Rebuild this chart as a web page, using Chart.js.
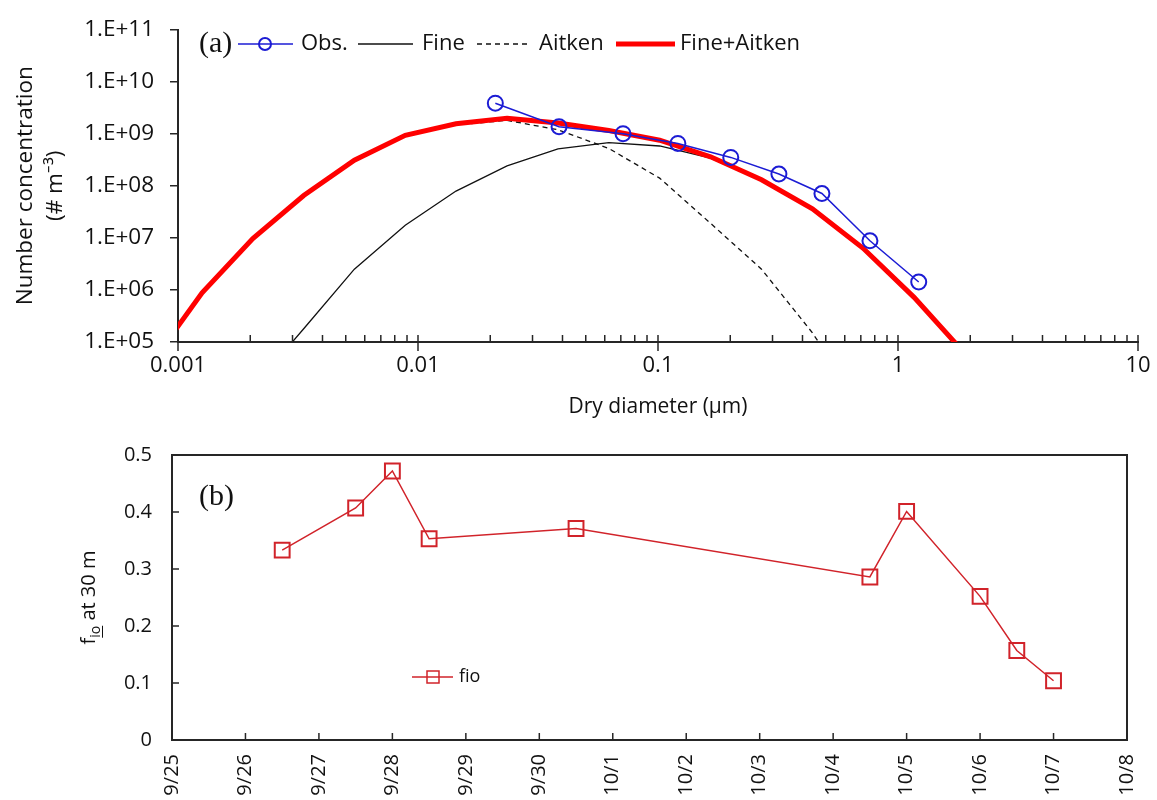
<!DOCTYPE html>
<html>
<head>
<meta charset="utf-8">
<script src="https://cdn.jsdelivr.net/npm/chart.js@4.4.1/dist/chart.umd.min.js"></script>
<style>
  body { margin: 0; background: #fff; }
  #wrap { position: relative; width: 1157px; height: 800px; background: #fff; }
  #top { position: absolute; left: 0; top: 0; }
  #bottom { position: absolute; left: 0; top: 430px; }
</style>
</head>
<body>
<div id="wrap">
  <canvas id="top" width="1157" height="430" style="width:1157px;height:430px"></canvas>
  <canvas id="bottom" width="1157" height="370" style="width:1157px;height:370px"></canvas>
</div>
<script>
// ---- panel (a): number size distribution ----
const obsDiam = [0.021, 0.0387, 0.0715, 0.121, 0.201, 0.319, 0.482, 0.764, 1.22];
const obsConc = [3.85e9, 1.36e9, 1.0e9, 6.5e8, 3.5e8, 1.68e8, 7.1e7, 8.8e6, 1.42e6];

// model size bins (um)
const modeDiam = [0.00077, 0.00126, 0.00205, 0.00334, 0.00543, 0.00885, 0.0144, 0.0235,
                  0.0383, 0.0624, 0.1016, 0.1656, 0.27, 0.44, 0.716, 1.167, 1.90];
const fineConc = [20, 600, 1.3e4, 1.8e5, 2.5e6, 1.74e7, 7.9e7, 2.4e8,
                  5.1e8, 6.7e8, 5.8e8, 3.4e8, 1.27e8, 3.6e7, 6.3e6, 7.2e5, 6e4];
const aitkenConc = [3.8e4, 8.8e5, 9.7e6, 6.5e7, 3.08e8, 9.1e8, 1.47e9, 1.8e9,
                    1.19e9, 5.2e8, 1.4e8, 1.9e7, 2.5e6, 1.5e5, 5e3, 80, 1];
const totalConc = [3.8e4, 8.8e5, 9.7e6, 6.5e7, 3.1e8, 9.3e8, 1.55e9, 1.98e9,
                   1.6e9, 1.15e9, 7.5e8, 3.6e8, 1.3e8, 3.6e7, 6.3e6, 7.2e5, 6e4];

const xDecades = [0.001, 0.01, 0.1, 1, 10];
const yDecades = [1e5, 1e6, 1e7, 1e8, 1e9, 1e10, 1e11];

// ---- panel (b): fio at 30 m ----
const dayLabels = ['9/25', '9/26', '9/27', '9/28', '9/29', '9/30', '10/1', '10/2',
                   '10/3', '10/4', '10/5', '10/6', '10/7', '10/8'];
const fioDays = [1.5, 2.5, 3, 3.5, 5.5, 9.5, 10, 11, 11.5, 12]; // days after 9/25
const fioValues = [0.333, 0.407, 0.472, 0.353, 0.371, 0.286, 0.401, 0.252, 0.157, 0.104];

Chart.defaults.font.family = "'Open Sans', sans-serif";
Chart.defaults.color = '#111';

const axisColor = '#262626';
const blue = '#1c1cd4';
const red = '#ff0000';
const fioRed = '#d1232a';
const serif = "'Liberation Serif', 'Times New Roman', serif";

function pts(xs, ys) {
  return xs.map((x, i) => ({ x: x, y: ys[i] }));
}

// decade ticks plus 2..9 minor ticks
const xTicksA = [];
xDecades.forEach((d, i) => {
  xTicksA.push({ value: d, major: true });
  if (i < xDecades.length - 1) {
    for (let m = 2; m <= 9; m++) xTicksA.push({ value: +(d * m).toPrecision(3), major: false });
  }
});

function formatE(v) {
  const e = Math.round(Math.log10(v));
  return '1.E+' + String(e).padStart(2, '0');
}

const panelA = {
  id: 'panelA',
  afterDraw(chart) {
    const ctx = chart.ctx;
    const xs = chart.scales.x;
    const yAxis = chart.chartArea.bottom;
    ctx.save();
    ctx.strokeStyle = axisColor;
    ctx.lineWidth = 1.5;
    xs.ticks.forEach(t => {
      const px = xs.getPixelForValue(t.value);
      ctx.beginPath();
      ctx.moveTo(px, yAxis - 7);
      ctx.lineTo(px, t.major ? yAxis + 9 : yAxis);
      ctx.stroke();
    });

    // panel label and legend
    const ly = 44;
    ctx.fillStyle = '#111';
    ctx.textBaseline = 'middle';
    ctx.font = '30px ' + serif;
    ctx.fillText('(a)', 199, ly);

    ctx.font = "22px 'Open Sans', sans-serif";
    // Obs.
    ctx.strokeStyle = blue; ctx.lineWidth = 1.5;
    ctx.beginPath(); ctx.moveTo(238, ly); ctx.lineTo(293, ly); ctx.stroke();
    ctx.lineWidth = 2;
    ctx.beginPath(); ctx.arc(265, ly, 6, 0, Math.PI * 2); ctx.stroke();
    ctx.fillText('Obs.', 301, ly);
    // Fine
    ctx.strokeStyle = '#111'; ctx.lineWidth = 1.3;
    ctx.beginPath(); ctx.moveTo(358, ly); ctx.lineTo(413, ly); ctx.stroke();
    ctx.fillText('Fine', 422, ly);
    // Aitken
    ctx.setLineDash([5, 4]);
    ctx.beginPath(); ctx.moveTo(477, ly); ctx.lineTo(529, ly); ctx.stroke();
    ctx.setLineDash([]);
    ctx.fillText('Aitken', 539, ly);
    // Fine+Aitken
    ctx.strokeStyle = red; ctx.lineWidth = 5;
    ctx.beginPath(); ctx.moveTo(616, ly); ctx.lineTo(675, ly); ctx.stroke();
    ctx.fillText('Fine+Aitken', 680, ly);
    ctx.restore();
  }
};

new Chart(document.getElementById('top'), {
  type: 'line',
  data: {
    datasets: [
      {
        label: 'Obs.',
        data: pts(obsDiam, obsConc),
        borderColor: blue,
        borderWidth: 1.5,
        pointRadius: 7.5,
        pointBorderWidth: 2,
        pointBorderColor: blue,
        pointBackgroundColor: 'rgba(0,0,0,0)'
      },
      {
        label: 'Fine+Aitken',
        data: pts(modeDiam, totalConc),
        borderColor: red,
        borderWidth: 5,
        pointRadius: 0,
        clip: 0
      },
      {
        label: 'Aitken',
        data: pts(modeDiam, aitkenConc),
        borderColor: '#111',
        borderWidth: 1.3,
        borderDash: [5, 4],
        pointRadius: 0,
        clip: 0
      },
      {
        label: 'Fine',
        data: pts(modeDiam, fineConc),
        borderColor: '#111',
        borderWidth: 1.3,
        pointRadius: 0,
        clip: 0
      }
    ]
  },
  options: {
    responsive: false,
    animation: false,
    layout: { padding: { top: 24, right: 19, left: 0, bottom: 0 } },
    plugins: { legend: { display: false }, tooltip: { enabled: false } },
    scales: {
      x: {
        type: 'logarithmic',
        min: 0.001,
        max: 10,
        afterBuildTicks: s => { s.ticks = xTicksA.map(t => ({ value: t.value, major: t.major })); },
        afterFit: s => { s.height = 88; },
        ticks: {
          autoSkip: false, maxRotation: 0, padding: 3, font: { size: 22 },
          callback: (v, i, t) => (t[i].major ? String(v) : '')
        },
        grid: { display: true, drawOnChartArea: false, color: 'rgba(0,0,0,0)', tickLength: 8 },
        border: { display: true, color: axisColor, width: 2 },
        title: { display: true, text: 'Dry diameter (μm)', font: { size: 21 }, padding: { top: 0, bottom: 10 } }
      },
      y: {
        type: 'logarithmic',
        min: 1e5,
        max: 1e11,
        afterBuildTicks: s => { s.ticks = yDecades.map(v => ({ value: v, major: true })); },
        afterFit: s => { s.width = 178; },
        ticks: { autoSkip: false, padding: 16, font: { size: 22.5 }, callback: v => formatE(v) },
        grid: { display: true, drawOnChartArea: false, color: axisColor, tickLength: 8, lineWidth: 1.5 },
        border: { display: true, color: axisColor, width: 2 },
        title: {
          display: true,
          text: ['Number concentration', '(# m⁻³)'],
          font: { size: 22.5, lineHeight: 1.35 },
          padding: { top: 10, bottom: 0 }
        }
      }
    }
  },
  plugins: [panelA]
});

const panelB = {
  id: 'panelB',
  afterDraw(chart) {
    const ctx = chart.ctx;
    const a = chart.chartArea;
    const xs = chart.scales.x;
    const ys = chart.scales.y;
    ctx.save();
    ctx.strokeStyle = axisColor;
    ctx.lineWidth = 2;
    ctx.strokeRect(a.left, a.top, a.right - a.left, a.bottom - a.top);
    ctx.lineWidth = 1.5;
    ys.ticks.forEach(t => {
      const py = ys.getPixelForValue(t.value);
      ctx.beginPath(); ctx.moveTo(a.left, py); ctx.lineTo(a.left + 7, py); ctx.stroke();
    });
    xs.ticks.forEach(t => {
      const px = xs.getPixelForValue(t.value);
      ctx.beginPath(); ctx.moveTo(px, a.bottom); ctx.lineTo(px, a.bottom - 7); ctx.stroke();
    });

    // y title: f_io at 30 m
    ctx.fillStyle = '#111';
    ctx.translate(88, (a.top + a.bottom) / 2);
    ctx.rotate(-Math.PI / 2);
    ctx.textBaseline = 'alphabetic';
    const big = "20px 'Open Sans', sans-serif";
    const small = "14px 'Open Sans', sans-serif";
    ctx.font = big;
    const wf = ctx.measureText('f').width;
    const wr = ctx.measureText(' at 30 m').width;
    ctx.font = small;
    const ws = ctx.measureText('io').width;
    let x0 = -(wf + ws + wr) / 2;
    ctx.font = big;
    ctx.fillText('f', x0, 7);
    ctx.font = small;
    ctx.fillText('io', x0 + wf, 12);
    ctx.lineWidth = 1;
    ctx.strokeStyle = '#111';
    ctx.beginPath(); ctx.moveTo(x0 + wf, 14.5); ctx.lineTo(x0 + wf + ws, 14.5); ctx.stroke();
    ctx.font = big;
    ctx.fillText(' at 30 m', x0 + wf + ws, 7);
    ctx.setTransform(1, 0, 0, 1, 0, 0);

    // panel label and legend
    ctx.textBaseline = 'middle';
    ctx.font = '30px ' + serif;
    ctx.fillText('(b)', 199, 67);
    const ly = 247;
    ctx.strokeStyle = fioRed;
    ctx.lineWidth = 1.5;
    ctx.beginPath(); ctx.moveTo(412, ly); ctx.lineTo(453, ly); ctx.stroke();
    ctx.strokeRect(427, ly - 6, 12, 12);
    ctx.font = "18px 'Open Sans', sans-serif";
    ctx.fillText('fio', 459, ly);
    ctx.restore();
  }
};

new Chart(document.getElementById('bottom'), {
  type: 'line',
  data: {
    datasets: [{
      label: 'fio',
      data: pts(fioDays, fioValues),
      borderColor: fioRed,
      borderWidth: 1.5,
      pointStyle: 'rect',
      pointRadius: 10.5,
      pointBorderWidth: 2,
      pointBorderColor: fioRed,
      pointBackgroundColor: 'rgba(0,0,0,0)'
    }]
  },
  options: {
    responsive: false,
    animation: false,
    layout: { padding: { top: 25, right: 27, left: 0, bottom: 0 } },
    plugins: { legend: { display: false }, tooltip: { enabled: false } },
    scales: {
      x: {
        type: 'linear',
        min: 0,
        max: dayLabels.length - 1,
        afterBuildTicks: s => { s.ticks = dayLabels.map((_, i) => ({ value: i })); },
        afterFit: s => { s.height = 60; },
        ticks: {
          autoSkip: false, minRotation: 90, maxRotation: 90, padding: 6, font: { size: 20 },
          callback: (v, i) => dayLabels[i]
        },
        grid: { display: true, drawOnChartArea: false, color: 'rgba(0,0,0,0)', tickLength: 8 },
        border: { display: false }
      },
      y: {
        min: 0,
        max: 0.5,
        afterFit: s => { s.width = 172; },
        ticks: { stepSize: 0.1, padding: 12, font: { size: 20 } },
        grid: { display: true, drawOnChartArea: false, color: 'rgba(0,0,0,0)', tickLength: 8 },
        border: { display: false }
      }
    }
  },
  plugins: [panelB]
});
</script>
</body>
</html>
